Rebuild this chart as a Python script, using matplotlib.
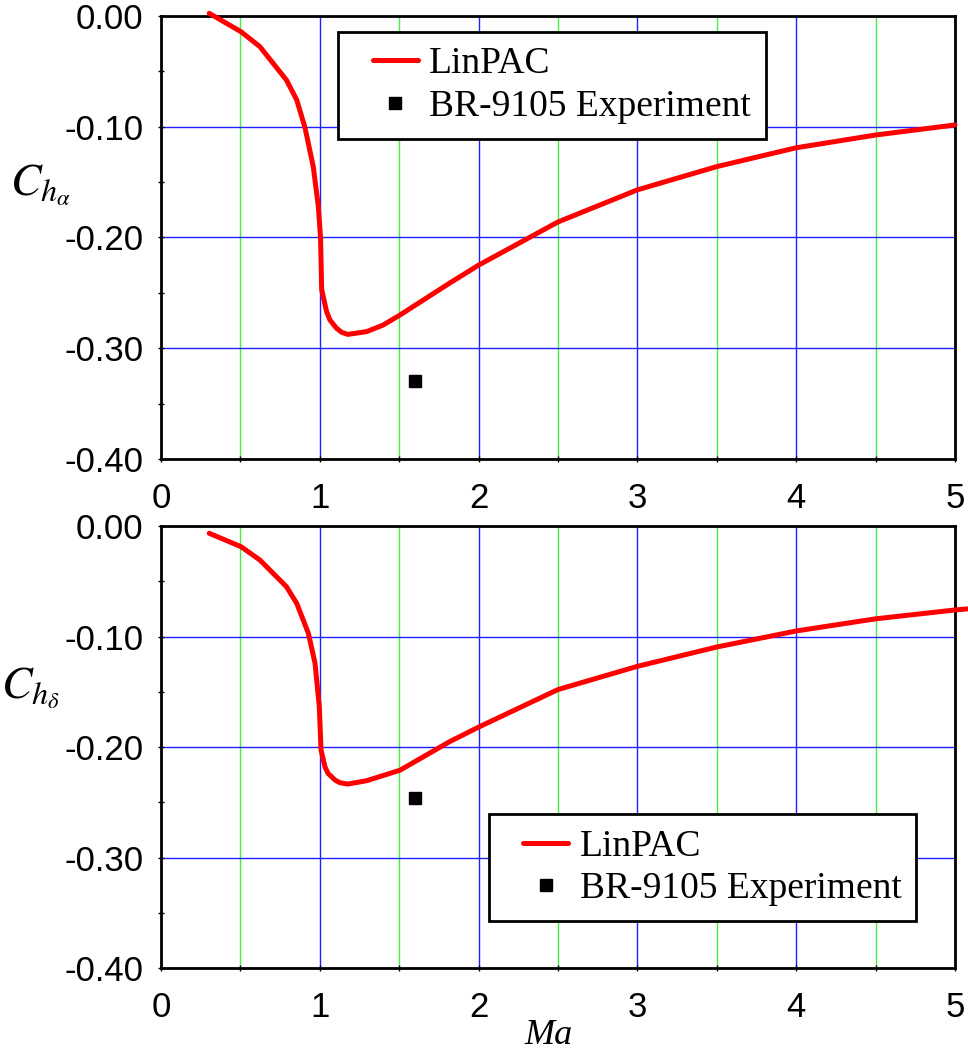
import matplotlib
matplotlib.use('Agg')
import matplotlib.pyplot as plt
from matplotlib.lines import Line2D
from matplotlib.legend_handler import HandlerLine2D
from matplotlib.ticker import MultipleLocator, FormatStrFormatter

plt.rcParams['font.family'] = ['Liberation Sans', 'DejaVu Sans']
plt.rcParams['axes.unicode_minus'] = False
plt.rcParams['mathtext.fontset'] = 'stix'

# hinge moment derivative vs Mach number, LinPAC prediction
mach_alpha = [0.304, 0.504, 0.623, 0.79, 0.855, 0.907, 0.959, 0.991, 1.005, 1.012,
              1.043, 1.064, 1.106, 1.138, 1.176, 1.295, 1.40, 1.505, 1.82, 2.0,
              2.5, 3.0, 3.5, 4.0, 4.5, 5.0]
ch_alpha = [0.0024, -0.0142, -0.0277, -0.0578, -0.0758, -0.1008, -0.136, -0.172,
            -0.2007, -0.247, -0.267, -0.2745, -0.282, -0.2856, -0.2875, -0.285,
            -0.279, -0.27, -0.241, -0.225, -0.186, -0.157, -0.136, -0.119,
            -0.1075, -0.0984]

mach_delta = [0.304, 0.504, 0.623, 0.79, 0.855, 0.928, 0.970, 0.997, 1.008, 1.033,
              1.052, 1.096, 1.127, 1.176, 1.295, 1.505, 1.82, 2.0, 2.5, 3.0, 3.5,
              4.0, 4.5, 5.0, 5.08]
ch_delta = [-0.0066, -0.0187, -0.0308, -0.0549, -0.070, -0.097, -0.124, -0.1635,
            -0.2027, -0.218, -0.2238, -0.2299, -0.2323, -0.2335, -0.2305, -0.221,
            -0.195, -0.182, -0.148, -0.127, -0.1095, -0.095, -0.084, -0.076,
            -0.075]

# wind tunnel data
exp_mach = [1.6]
exp_alpha = [-0.33]
exp_delta = [-0.246]

fig = plt.figure(figsize=(9.68, 10.52), dpi=100)
ax1 = fig.add_axes([0.1663, 0.5637, 0.8202, 0.4211])
ax2 = fig.add_axes([0.1663, 0.0798, 0.8202, 0.4202])

legend_font = {'family': 'Liberation Serif', 'size': 27}


def style_axes(ax):
    ax.set_xlim(0, 5)
    ax.set_ylim(-0.4, 0.0)
    ax.xaxis.set_major_locator(MultipleLocator(1))
    ax.xaxis.set_minor_locator(MultipleLocator(0.5))
    ax.yaxis.set_major_locator(MultipleLocator(0.1))
    ax.yaxis.set_minor_locator(MultipleLocator(0.05))
    ax.yaxis.set_major_formatter(FormatStrFormatter('%.2f'))
    ax.grid(which='major', color='#2020ff', lw=1.0)
    ax.xaxis.grid(which='minor', color='#44ee44', lw=1.0)
    ax.set_axisbelow(True)
    ax.tick_params(which='both', direction='inout', length=5, width=1,
                   labelsize=25, top=False, right=False)
    ax.tick_params(axis='x', pad=14)
    ax.tick_params(axis='y', pad=10)
    for sp in ax.spines.values():
        sp.set_linewidth(2)


def add_legend(ax, anchor):
    leg = ax.legend(loc='upper left', bbox_to_anchor=anchor, borderaxespad=0,
                    prop=legend_font, fancybox=False, edgecolor='black',
                    framealpha=1, handlelength=1.72, handletextpad=0.3,
                    borderpad=0.4, labelspacing=0.22,
                    handler_map={Line2D: HandlerLine2D(xpad=0.52)})
    leg.get_frame().set_linewidth(2)


for ax, mach, ch, exp in [(ax1, mach_alpha, ch_alpha, exp_alpha),
                          (ax2, mach_delta, ch_delta, exp_delta)]:
    style_axes(ax)
    ax.plot(mach, ch, color='red', lw=3.6, solid_capstyle='round',
            solid_joinstyle='round', clip_on=False, label='LinPAC', zorder=3)
    ax.plot(exp_mach, exp, ls='none', marker='s', ms=8, color='black',
            label='BR-9105 Experiment', zorder=4)

add_legend(ax1, (0.223, 0.964))
add_legend(ax2, (0.413, 0.348))

fig.text(10 / 968, 1 - 185 / 1052, r'$C_{h_\alpha}$', fontsize=33,
         ha='left', va='center')
fig.text(1 / 968, 1 - 688 / 1052, r'$C_{h_\delta}$', fontsize=33,
         ha='left', va='center')
fig.text(549 / 968, 1 - 1035 / 1052, 'Ma', fontsize=26, style='italic',
         family='Liberation Serif', ha='center', va='center')

fig.savefig('out.png', dpi=100)
